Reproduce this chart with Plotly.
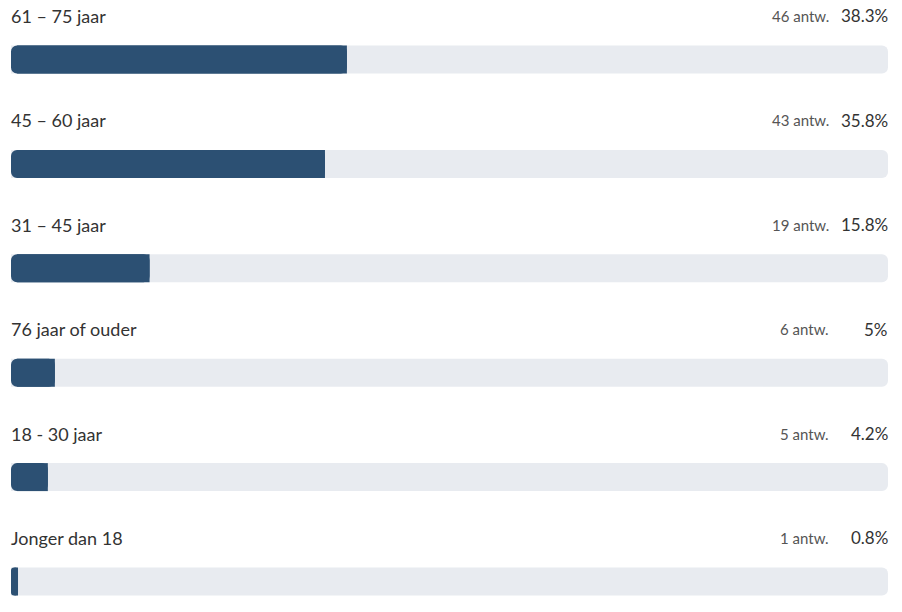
import plotly.graph_objects as go

labels = ["61 – 75 jaar", "45 – 60 jaar", "31 – 45 jaar", "76 jaar of ouder", "18 - 30 jaar", "Jonger dan 18"]
counts = [46, 43, 19, 6, 5, 1]
pcts = [38.3, 35.8, 15.8, 5, 4.2, 0.8]
pct_labels = ["38.3%", "35.8%", "15.8%", "5%", "4.2%", "0.8%"]

DARK = "#2c5073"
TRACK = "#e8ebf0"
FONT = "Lato"

rows = list(range(len(labels)))
bar_w = 0.268

fig = go.Figure()

# grey track (rounded at the right end)
fig.add_trace(go.Bar(
    y=rows, x=[100] * len(rows), orientation="h",
    width=bar_w, marker=dict(color=TRACK, cornerradius=6, line_width=0),
    hoverinfo="skip", showlegend=False,
))

# filled part, drawn backwards from its value so the left end gets the rounding
fig.add_trace(go.Bar(
    y=rows, x=[-p for p in pcts], base=pcts, orientation="h",
    width=bar_w, marker=dict(color=DARK, cornerradius=6, line_width=0),
    customdata=list(zip(labels, pcts)),
    hovertemplate="%{customdata[0]}: %{customdata[1]}%<extra></extra>",
    showlegend=False,
))

# square body + right end of the filled part (only the left corners stay rounded)
starts = [min(0.7, p / 2) for p in pcts]
fig.add_trace(go.Bar(
    y=rows, x=[p - s for p, s in zip(pcts, starts)], base=starts, orientation="h",
    width=bar_w, marker=dict(color=DARK, line_width=0),
    hoverinfo="skip", showlegend=False,
))

for i, (lab, c, pl) in enumerate(zip(labels, counts, pct_labels)):
    fig.add_annotation(x=0, y=i - 0.417, xref="x", yref="y", text=lab,
                       xanchor="left", yanchor="middle", showarrow=False, xshift=-2,
                       font=dict(family=FONT, size=18, color="#333333"))
    fig.add_annotation(x=100, y=i - 0.417, xref="x", yref="y", text=pl,
                       xanchor="right", yanchor="middle", showarrow=False, xshift=2,
                       font=dict(family=FONT, size=17, color="#333333"))
    fig.add_annotation(x=100, y=i - 0.417, xref="x", yref="y", text=f"{c} antw.",
                       xanchor="right", yanchor="middle", showarrow=False, xshift=-57,
                       font=dict(family=FONT, size=15, color="#555555"))

fig.update_layout(
    width=902, height=612,
    margin=dict(l=11, r=14, t=0, b=0),
    barmode="overlay",
    plot_bgcolor="white", paper_bgcolor="white",
    xaxis=dict(range=[0, 100], visible=False, fixedrange=True),
    yaxis=dict(range=[5.292, -0.570], visible=False, fixedrange=True),
    font=dict(family=FONT),
)

fig.write_html("out.html", config={"displayModeBar": False},
               post_script="document.body.style.margin='0';")
